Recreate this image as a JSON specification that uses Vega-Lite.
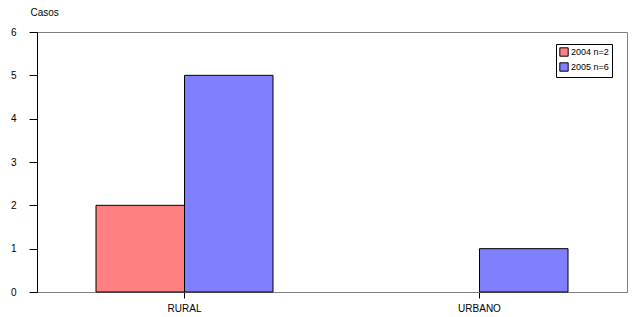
{
  "$schema": "https://vega.github.io/schema/vega-lite/v6.json",
  "autosize": "none",
  "width": 590,
  "height": 260,
  "padding": {"left": 37, "top": 32, "right": 7, "bottom": 25},
  "background": "white",
  "config": {
    "view": {"stroke": "#808080", "strokeWidth": 1},
    "font": "Liberation Sans"
  },
  "data": {
    "values": [
      {"zona": "RURAL", "serie": "2004 n=2", "casos": 2},
      {"zona": "RURAL", "serie": "2005 n=6", "casos": 5},
      {"zona": "URBANO", "serie": "2004 n=2", "casos": 0},
      {"zona": "URBANO", "serie": "2005 n=6", "casos": 1}
    ]
  },
  "mark": {"type": "bar", "stroke": "black"},
  "encoding": {
    "x": {
      "field": "zona",
      "type": "nominal",
      "scale": {"paddingInner": 0.4, "paddingOuter": 0.2},
      "axis": {
        "title": null,
        "labelAngle": 0,
        "labelFontSize": 10,
        "labelColor": "black",
        "labelPadding": 5,
        "tickColor": "black",
        "tickSize": 6,
        "domainColor": "#808080",
        "grid": false,
        "bandPosition": 0.5
      }
    },
    "xOffset": {"field": "serie", "type": "nominal", "scale": {"paddingInner": 0, "paddingOuter": 0}},
    "y": {
      "field": "casos",
      "type": "quantitative",
      "scale": {"domain": [0, 6], "nice": false},
      "axis": {
        "title": "Casos",
        "titleAngle": 0,
        "titleFontSize": 10,
        "titleFontWeight": "normal",
        "titleColor": "black",
        "titleAlign": "left",
        "titleBaseline": "bottom",
        "titleX": -7,
        "titleY": -15,
        "values": [0, 1, 2, 3, 4, 5, 6],
        "labelFontSize": 10,
        "labelColor": "black",
        "labelPadding": 13,
        "tickColor": "black",
        "tickSize": 8,
        "domainColor": "black",
        "grid": false
      }
    },
    "strokeWidth": {
      "condition": {"test": "datum.casos > 0", "value": 1},
      "value": 0
    },
    "color": {
      "field": "serie",
      "type": "nominal",
      "scale": {"domain": ["2004 n=2", "2005 n=6"], "range": ["#FF8080", "#8080FF"]},
      "legend": {
        "title": null,
        "orient": "none",
        "legendX": 519,
        "legendY": 12,
        "symbolType": "square",
        "symbolSize": 70,
        "symbolStrokeColor": "black",
        "symbolStrokeWidth": 1,
        "symbolOpacity": 1,
        "labelFontSize": 9,
        "labelColor": "black",
        "labelOffset": 2,
        "rowPadding": 1,
        "padding": 3,
        "strokeColor": "black",
        "fillColor": "white"
      }
    }
  }
}
